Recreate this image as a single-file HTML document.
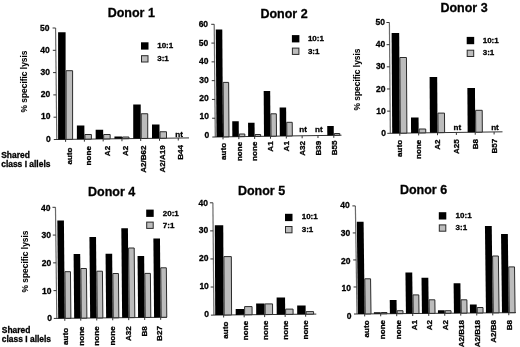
<!DOCTYPE html>
<html><head><meta charset="utf-8"><style>
html,body{margin:0;padding:0;background:#fff;width:520px;height:347px;overflow:hidden}
svg{display:block;filter:blur(0.4px)}
text{stroke:#000;stroke-width:0.3px}
</style></head><body>
<svg width="520" height="347" viewBox="0 0 520 347" font-family="Liberation Sans, sans-serif" font-weight="bold" fill="#000">
<line x1="55.57" y1="28" x2="56.8" y2="139.5" stroke="#6a6a6a" stroke-width="1.2"/>
<line x1="53.8" y1="139.54" x2="189" y2="137.91" stroke="#333" stroke-width="1"/>
<text x="50.7" y="141.5" font-size="8.5" text-anchor="end">0</text>
<line x1="53.55" y1="117.2" x2="56.55" y2="117.2" stroke="#333" stroke-width="1"/>
<text x="50.45" y="119.34" font-size="8.5" text-anchor="end">10</text>
<line x1="53.31" y1="94.9" x2="56.31" y2="94.9" stroke="#333" stroke-width="1"/>
<text x="50.21" y="97.18" font-size="8.5" text-anchor="end">20</text>
<line x1="53.06" y1="72.6" x2="56.06" y2="72.6" stroke="#333" stroke-width="1"/>
<text x="49.96" y="75.02" font-size="8.5" text-anchor="end">30</text>
<line x1="52.82" y1="50.3" x2="55.82" y2="50.3" stroke="#333" stroke-width="1"/>
<text x="49.72" y="52.86" font-size="8.5" text-anchor="end">40</text>
<line x1="52.57" y1="28" x2="55.57" y2="28" stroke="#333" stroke-width="1"/>
<text x="49.47" y="30.7" font-size="8.5" text-anchor="end">50</text>
<line x1="65.6" y1="139.39" x2="65.6" y2="141.89" stroke="#333" stroke-width="1"/>
<polygon points="58.1,139.48 58.1,32.2 65.6,32.2 65.6,139.39" fill="#000"/>
<polygon points="66.1,139.39 66.1,70.7 72.6,70.7 72.6,139.31" fill="#bcbcbc" stroke="#2a2a2a" stroke-width="1"/>
<text transform="translate(72.32,147.49) rotate(-90)" font-size="8.1" text-anchor="end">auto</text>
<line x1="84.38" y1="139.17" x2="84.38" y2="141.67" stroke="#333" stroke-width="1"/>
<polygon points="76.88,139.26 76.88,125.5 84.38,125.5 84.38,139.17" fill="#000"/>
<polygon points="84.88,139.16 84.88,134.5 91.38,134.5 91.38,139.09" fill="#bcbcbc" stroke="#2a2a2a" stroke-width="1"/>
<text transform="translate(90.79,146.07) rotate(-90)" font-size="8.1" text-anchor="end">none</text>
<line x1="103.16" y1="138.94" x2="103.16" y2="141.44" stroke="#333" stroke-width="1"/>
<polygon points="95.66,139.03 95.66,129.75 103.16,129.75 103.16,138.94" fill="#000"/>
<polygon points="103.66,138.94 103.66,134.5 110.16,134.5 110.16,138.86" fill="#bcbcbc" stroke="#2a2a2a" stroke-width="1"/>
<text transform="translate(109.5,145.84) rotate(-90)" font-size="8.1" text-anchor="end">A2</text>
<line x1="121.94" y1="138.72" x2="121.94" y2="141.22" stroke="#333" stroke-width="1"/>
<polygon points="114.44,138.81 114.44,136.5 121.94,136.5 121.94,138.72" fill="#000"/>
<polygon points="122.44,138.71 122.44,137 128.94,137 128.94,138.63" fill="#bcbcbc" stroke="#2a2a2a" stroke-width="1"/>
<text transform="translate(127.95,145.62) rotate(-90)" font-size="8.1" text-anchor="end">A2</text>
<line x1="140.72" y1="138.49" x2="140.72" y2="140.99" stroke="#333" stroke-width="1"/>
<polygon points="133.22,138.58 133.22,104.5 140.72,104.5 140.72,138.49" fill="#000"/>
<polygon points="141.22,138.49 141.22,113.75 147.72,113.75 147.72,138.41" fill="#bcbcbc" stroke="#2a2a2a" stroke-width="1"/>
<text transform="translate(146.48,145.39) rotate(-90)" font-size="8.1" text-anchor="end">A2/B62</text>
<line x1="159.5" y1="138.27" x2="159.5" y2="140.77" stroke="#333" stroke-width="1"/>
<polygon points="152,138.36 152,124.5 159.5,124.5 159.5,138.27" fill="#000"/>
<polygon points="160,138.26 160,131.75 166.5,131.75 166.5,138.18" fill="#bcbcbc" stroke="#2a2a2a" stroke-width="1"/>
<text transform="translate(164.91,145.17) rotate(-90)" font-size="8.1" text-anchor="end">A2/A19</text>
<line x1="178.28" y1="138.04" x2="178.28" y2="140.54" stroke="#333" stroke-width="1"/>
<text x="179.18" y="137.24" font-size="8.1" text-anchor="middle">nt</text>
<text transform="translate(183.45,144.94) rotate(-90)" font-size="8.1" text-anchor="end">B44</text>
<text x="107.7" y="17.3" font-size="12.5">Donor 1</text>
<rect x="141" y="42.3" width="7.5" height="7.3" fill="#000"/>
<rect x="141.5" y="55.7" width="6.5" height="6.3" fill="#bcbcbc" stroke="#2a2a2a" stroke-width="1"/>
<text x="157.2" y="48.4" font-size="8.0">10:1</text>
<text x="157.2" y="60.9" font-size="8.0">3:1</text>
<text transform="translate(27,81.5) rotate(-90)" font-size="8.4" text-anchor="middle" style="stroke-width:0.1px">% specific lysis</text>
<text x="1.2" y="158" font-size="8.45">Shared</text>
<text x="1.2" y="166.7" font-size="8.45">class I allels</text>
<line x1="214.21" y1="24.3" x2="215.3" y2="137" stroke="#6a6a6a" stroke-width="1.2"/>
<line x1="212.3" y1="137.04" x2="341.5" y2="135.23" stroke="#333" stroke-width="1"/>
<text x="209.2" y="137.9" font-size="8.5" text-anchor="end">0</text>
<line x1="212.12" y1="118.22" x2="215.12" y2="118.22" stroke="#333" stroke-width="1"/>
<text x="209.02" y="119.43" font-size="8.5" text-anchor="end">10</text>
<line x1="211.94" y1="99.43" x2="214.94" y2="99.43" stroke="#333" stroke-width="1"/>
<text x="208.84" y="100.97" font-size="8.5" text-anchor="end">20</text>
<line x1="211.75" y1="80.65" x2="214.75" y2="80.65" stroke="#333" stroke-width="1"/>
<text x="208.65" y="82.5" font-size="8.5" text-anchor="end">30</text>
<line x1="211.57" y1="61.87" x2="214.57" y2="61.87" stroke="#333" stroke-width="1"/>
<text x="208.47" y="64.03" font-size="8.5" text-anchor="end">40</text>
<line x1="211.39" y1="43.08" x2="214.39" y2="43.08" stroke="#333" stroke-width="1"/>
<text x="208.29" y="45.57" font-size="8.5" text-anchor="end">50</text>
<line x1="211.21" y1="24.3" x2="214.21" y2="24.3" stroke="#333" stroke-width="1"/>
<text x="208.11" y="27.1" font-size="8.5" text-anchor="end">60</text>
<line x1="223" y1="136.89" x2="223" y2="139.39" stroke="#333" stroke-width="1"/>
<polygon points="216.5,136.98 215.78,29.5 222.28,29.5 223,136.89" fill="#000"/>
<polygon points="223.5,136.89 223.13,82.4 228.63,82.4 229,136.81" fill="#bcbcbc" stroke="#2a2a2a" stroke-width="1"/>
<text transform="translate(226.02,142.79) rotate(-90)" font-size="8.1" text-anchor="end">auto</text>
<line x1="238.83" y1="136.67" x2="238.83" y2="139.17" stroke="#333" stroke-width="1"/>
<polygon points="232.33,136.76 232.23,121.2 238.73,121.2 238.83,136.67" fill="#000"/>
<polygon points="239.33,136.66 239.31,134 244.81,134 244.83,136.59" fill="#bcbcbc" stroke="#2a2a2a" stroke-width="1"/>
<text transform="translate(241.76,141.77) rotate(-90)" font-size="8.1" text-anchor="end">none</text>
<line x1="254.66" y1="136.45" x2="254.66" y2="138.95" stroke="#333" stroke-width="1"/>
<polygon points="248.16,136.54 248.07,122.7 254.57,122.7 254.66,136.45" fill="#000"/>
<polygon points="255.16,136.44 255.14,134.5 260.64,134.5 260.66,136.36" fill="#bcbcbc" stroke="#2a2a2a" stroke-width="1"/>
<text transform="translate(257.48,141.55) rotate(-90)" font-size="8.1" text-anchor="end">none</text>
<line x1="270.49" y1="136.23" x2="270.49" y2="138.73" stroke="#333" stroke-width="1"/>
<polygon points="263.99,136.32 263.69,91 270.19,91 270.49,136.23" fill="#000"/>
<polygon points="270.99,136.22 270.84,113.8 276.34,113.8 276.49,136.14" fill="#bcbcbc" stroke="#2a2a2a" stroke-width="1"/>
<text transform="translate(273.43,141.33) rotate(-90)" font-size="8.1" text-anchor="end">A1</text>
<line x1="286.32" y1="136.01" x2="286.32" y2="138.51" stroke="#333" stroke-width="1"/>
<polygon points="279.82,136.1 279.63,107.4 286.13,107.4 286.32,136.01" fill="#000"/>
<polygon points="286.82,136 286.72,122.3 292.22,122.3 292.32,135.92" fill="#bcbcbc" stroke="#2a2a2a" stroke-width="1"/>
<text transform="translate(289.15,141.11) rotate(-90)" font-size="8.1" text-anchor="end">A1</text>
<line x1="302.15" y1="135.78" x2="302.15" y2="138.28" stroke="#333" stroke-width="1"/>
<text x="303.05" y="131.78" font-size="8.1" text-anchor="middle">nt</text>
<text transform="translate(304.94,140.88) rotate(-90)" font-size="8.1" text-anchor="end">A32</text>
<line x1="317.98" y1="135.56" x2="317.98" y2="138.06" stroke="#333" stroke-width="1"/>
<text x="318.88" y="131.56" font-size="8.1" text-anchor="middle">nt</text>
<text transform="translate(320.82,140.66) rotate(-90)" font-size="8.1" text-anchor="end">B39</text>
<line x1="333.81" y1="135.34" x2="333.81" y2="137.84" stroke="#333" stroke-width="1"/>
<polygon points="327.31,135.43 327.25,126 333.75,126 333.81,135.34" fill="#000"/>
<polygon points="334.31,135.33 334.29,133.5 339.79,133.5 339.81,135.26" fill="#bcbcbc" stroke="#2a2a2a" stroke-width="1"/>
<text transform="translate(336.61,140.44) rotate(-90)" font-size="8.1" text-anchor="end">B55</text>
<text x="260.4" y="17.6" font-size="12.5">Donor 2</text>
<rect x="291.9" y="35.1" width="7.5" height="7.3" fill="#000"/>
<rect x="292.4" y="48.1" width="6.5" height="6.3" fill="#bcbcbc" stroke="#2a2a2a" stroke-width="1"/>
<text x="307.9" y="41.2" font-size="8.0">10:1</text>
<text x="307.9" y="53.7" font-size="8.0">3:1</text>
<line x1="389.41" y1="22.5" x2="390.3" y2="133.3" stroke="#6a6a6a" stroke-width="1.2"/>
<line x1="387.3" y1="133.34" x2="502.5" y2="131.84" stroke="#333" stroke-width="1"/>
<text x="385.9" y="135.8" font-size="8.5" text-anchor="end">0</text>
<line x1="387.12" y1="111.14" x2="390.12" y2="111.14" stroke="#333" stroke-width="1"/>
<text x="385.72" y="113.67" font-size="8.5" text-anchor="end">10</text>
<line x1="386.95" y1="88.98" x2="389.95" y2="88.98" stroke="#333" stroke-width="1"/>
<text x="385.55" y="91.54" font-size="8.5" text-anchor="end">20</text>
<line x1="386.77" y1="66.82" x2="389.77" y2="66.82" stroke="#333" stroke-width="1"/>
<text x="385.37" y="69.41" font-size="8.5" text-anchor="end">30</text>
<line x1="386.59" y1="44.66" x2="389.59" y2="44.66" stroke="#333" stroke-width="1"/>
<text x="385.19" y="47.28" font-size="8.5" text-anchor="end">40</text>
<line x1="386.41" y1="22.5" x2="389.41" y2="22.5" stroke="#333" stroke-width="1"/>
<text x="385.01" y="25.15" font-size="8.5" text-anchor="end">50</text>
<line x1="399.8" y1="133.18" x2="399.8" y2="135.68" stroke="#333" stroke-width="1"/>
<polygon points="392.2,133.28 391.6,33 399.2,33 399.8,133.18" fill="#000"/>
<polygon points="400.3,133.17 399.84,57.5 406.44,57.5 406.9,133.08" fill="#bcbcbc" stroke="#2a2a2a" stroke-width="1"/>
<text transform="translate(402.42,139.88) rotate(-90)" font-size="8.1" text-anchor="end">auto</text>
<line x1="418.66" y1="132.93" x2="418.66" y2="135.43" stroke="#333" stroke-width="1"/>
<polygon points="411.06,133.03 410.97,117.6 418.57,117.6 418.66,132.93" fill="#000"/>
<polygon points="419.16,132.92 419.13,129 425.73,129 425.76,132.84" fill="#bcbcbc" stroke="#2a2a2a" stroke-width="1"/>
<text transform="translate(421.19,139.63) rotate(-90)" font-size="8.1" text-anchor="end">none</text>
<line x1="437.52" y1="132.69" x2="437.52" y2="135.19" stroke="#333" stroke-width="1"/>
<polygon points="429.92,132.78 429.59,77.1 437.19,77.1 437.52,132.69" fill="#000"/>
<polygon points="438.02,132.68 437.9,113.1 444.5,113.1 444.62,132.59" fill="#bcbcbc" stroke="#2a2a2a" stroke-width="1"/>
<text transform="translate(440.2,139.39) rotate(-90)" font-size="8.1" text-anchor="end">A2</text>
<line x1="456.38" y1="132.44" x2="456.38" y2="134.94" stroke="#333" stroke-width="1"/>
<text x="457.28" y="130.34" font-size="8.1" text-anchor="middle">nt</text>
<text transform="translate(459.07,139.14) rotate(-90)" font-size="8.1" text-anchor="end">A25</text>
<line x1="475.24" y1="132.2" x2="475.24" y2="134.7" stroke="#333" stroke-width="1"/>
<polygon points="467.64,132.29 467.37,88 474.97,88 475.24,132.2" fill="#000"/>
<polygon points="475.74,132.19 475.61,110.3 482.21,110.3 482.34,132.1" fill="#bcbcbc" stroke="#2a2a2a" stroke-width="1"/>
<text transform="translate(477.86,138.9) rotate(-90)" font-size="8.1" text-anchor="end">B8</text>
<line x1="494.1" y1="131.95" x2="494.1" y2="134.45" stroke="#333" stroke-width="1"/>
<text x="495" y="129.85" font-size="8.1" text-anchor="middle">nt</text>
<text transform="translate(496.82,138.65) rotate(-90)" font-size="8.1" text-anchor="end">B57</text>
<text x="440.4" y="12.1" font-size="12.5">Donor 3</text>
<rect x="466.7" y="36.9" width="7.5" height="7.3" fill="#000"/>
<rect x="467.2" y="50.2" width="6.5" height="6.3" fill="#bcbcbc" stroke="#2a2a2a" stroke-width="1"/>
<text x="482.7" y="43" font-size="8.0">10:1</text>
<text x="482.7" y="55.4" font-size="8.0">3:1</text>
<text transform="translate(359.9,79.5) rotate(-90)" font-size="8.4" text-anchor="middle" style="stroke-width:0.1px">% specific lysis</text>
<line x1="55.47" y1="207.3" x2="56.8" y2="318.4" stroke="#6a6a6a" stroke-width="1.2"/>
<line x1="53.8" y1="318.43" x2="167" y2="317.24" stroke="#333" stroke-width="1"/>
<text x="51.9" y="321.4" font-size="8.5" text-anchor="end">0</text>
<line x1="53.47" y1="290.62" x2="56.47" y2="290.62" stroke="#333" stroke-width="1"/>
<text x="51.57" y="293.72" font-size="8.5" text-anchor="end">10</text>
<line x1="53.13" y1="262.85" x2="56.13" y2="262.85" stroke="#333" stroke-width="1"/>
<text x="51.23" y="266.05" font-size="8.5" text-anchor="end">20</text>
<line x1="52.8" y1="235.07" x2="55.8" y2="235.07" stroke="#333" stroke-width="1"/>
<text x="50.9" y="238.38" font-size="8.5" text-anchor="end">30</text>
<line x1="52.47" y1="207.3" x2="55.47" y2="207.3" stroke="#333" stroke-width="1"/>
<text x="50.57" y="210.7" font-size="8.5" text-anchor="end">40</text>
<line x1="64.8" y1="318.32" x2="64.8" y2="320.82" stroke="#333" stroke-width="1"/>
<polygon points="58.2,318.39 57.32,220.6 63.92,220.6 64.8,318.32" fill="#000"/>
<polygon points="65.3,318.31 64.88,271.7 70.48,271.7 70.9,318.25" fill="#bcbcbc" stroke="#2a2a2a" stroke-width="1"/>
<text transform="translate(68.12,327.87) rotate(-90)" font-size="8.1" text-anchor="end">auto</text>
<line x1="80.78" y1="318.15" x2="80.78" y2="320.65" stroke="#333" stroke-width="1"/>
<polygon points="74.18,318.22 73.6,254.1 80.2,254.1 80.78,318.15" fill="#000"/>
<polygon points="81.28,318.14 80.83,268.5 86.43,268.5 86.88,318.08" fill="#bcbcbc" stroke="#2a2a2a" stroke-width="1"/>
<text transform="translate(83.76,326.4) rotate(-90)" font-size="8.1" text-anchor="end">none</text>
<line x1="96.76" y1="317.98" x2="96.76" y2="320.48" stroke="#333" stroke-width="1"/>
<polygon points="90.16,318.05 89.43,237.1 96.03,237.1 96.76,317.98" fill="#000"/>
<polygon points="97.26,317.98 96.83,271.2 102.43,271.2 102.86,317.92" fill="#bcbcbc" stroke="#2a2a2a" stroke-width="1"/>
<text transform="translate(99.38,326.34) rotate(-90)" font-size="8.1" text-anchor="end">none</text>
<line x1="112.74" y1="317.81" x2="112.74" y2="320.31" stroke="#333" stroke-width="1"/>
<polygon points="106.14,317.88 105.56,253.8 112.16,253.8 112.74,317.81" fill="#000"/>
<polygon points="113.24,317.81 112.84,273.5 118.44,273.5 118.84,317.75" fill="#bcbcbc" stroke="#2a2a2a" stroke-width="1"/>
<text transform="translate(115,326.28) rotate(-90)" font-size="8.1" text-anchor="end">none</text>
<line x1="128.72" y1="317.64" x2="128.72" y2="320.14" stroke="#333" stroke-width="1"/>
<polygon points="122.12,317.71 121.32,228.3 127.92,228.3 128.72,317.64" fill="#000"/>
<polygon points="129.22,317.64 128.59,248 134.19,248 134.82,317.58" fill="#bcbcbc" stroke="#2a2a2a" stroke-width="1"/>
<text transform="translate(130.92,326.21) rotate(-90)" font-size="8.1" text-anchor="end">A32</text>
<line x1="144.7" y1="317.48" x2="144.7" y2="319.98" stroke="#333" stroke-width="1"/>
<polygon points="138.1,317.55 137.55,256 144.15,256 144.7,317.48" fill="#000"/>
<polygon points="145.2,317.47 144.8,273.4 150.4,273.4 150.8,317.41" fill="#bcbcbc" stroke="#2a2a2a" stroke-width="1"/>
<text transform="translate(146.66,326.15) rotate(-90)" font-size="8.1" text-anchor="end">B8</text>
<line x1="160.68" y1="317.31" x2="160.68" y2="319.81" stroke="#333" stroke-width="1"/>
<polygon points="154.08,317.38 153.37,238.5 159.97,238.5 160.68,317.31" fill="#000"/>
<polygon points="161.18,317.3 160.73,267.8 166.33,267.8 166.78,317.25" fill="#bcbcbc" stroke="#2a2a2a" stroke-width="1"/>
<text transform="translate(162.39,326.08) rotate(-90)" font-size="8.1" text-anchor="end">B27</text>
<text x="88" y="195.9" font-size="12.5">Donor 4</text>
<rect x="146.2" y="209.6" width="7.5" height="7.3" fill="#000"/>
<rect x="146.7" y="222.1" width="6.5" height="6.3" fill="#bcbcbc" stroke="#2a2a2a" stroke-width="1"/>
<text x="162.8" y="215.7" font-size="8.0">20:1</text>
<text x="162.8" y="227.5" font-size="8.0">7:1</text>
<text transform="translate(28,261.5) rotate(-90)" font-size="8.4" text-anchor="middle" style="stroke-width:0.1px">% specific lysis</text>
<text x="1.8" y="332.7" font-size="8.45">Shared</text>
<text x="1.8" y="341.7" font-size="8.45">class I allels</text>
<line x1="212.89" y1="202.8" x2="213.9" y2="315.1" stroke="#6a6a6a" stroke-width="1.2"/>
<line x1="210.9" y1="315.13" x2="316.3" y2="314.08" stroke="#333" stroke-width="1"/>
<text x="209.1" y="316.7" font-size="8.5" text-anchor="end">0</text>
<line x1="210.65" y1="287.03" x2="213.65" y2="287.03" stroke="#333" stroke-width="1"/>
<text x="208.85" y="288.95" font-size="8.5" text-anchor="end">10</text>
<line x1="210.39" y1="258.95" x2="213.39" y2="258.95" stroke="#333" stroke-width="1"/>
<text x="208.59" y="261.2" font-size="8.5" text-anchor="end">20</text>
<line x1="210.14" y1="230.88" x2="213.14" y2="230.88" stroke="#333" stroke-width="1"/>
<text x="208.34" y="233.45" font-size="8.5" text-anchor="end">30</text>
<line x1="209.89" y1="202.8" x2="212.89" y2="202.8" stroke="#333" stroke-width="1"/>
<text x="208.09" y="205.7" font-size="8.5" text-anchor="end">40</text>
<line x1="223.65" y1="315" x2="223.65" y2="317.5" stroke="#333" stroke-width="1"/>
<polygon points="215.2,315.09 214.8,225.3 223.25,225.3 223.65,315" fill="#000"/>
<polygon points="224.15,315 223.88,256.6 231.33,256.6 231.6,314.92" fill="#bcbcbc" stroke="#2a2a2a" stroke-width="1"/>
<text transform="translate(228.02,321.6) rotate(-90)" font-size="8.1" text-anchor="end">auto</text>
<line x1="244.15" y1="314.8" x2="244.15" y2="317.3" stroke="#333" stroke-width="1"/>
<polygon points="235.7,314.88 235.67,309.1 244.12,309.1 244.15,314.8" fill="#000"/>
<polygon points="244.65,314.79 244.61,306.6 252.06,306.6 252.1,314.72" fill="#bcbcbc" stroke="#2a2a2a" stroke-width="1"/>
<text transform="translate(248.09,320.8) rotate(-90)" font-size="8.1" text-anchor="end">none</text>
<line x1="264.65" y1="314.59" x2="264.65" y2="317.09" stroke="#333" stroke-width="1"/>
<polygon points="256.2,314.68 256.15,303.4 264.6,303.4 264.65,314.59" fill="#000"/>
<polygon points="265.15,314.59 265.1,303.9 272.55,303.9 272.6,314.51" fill="#bcbcbc" stroke="#2a2a2a" stroke-width="1"/>
<text transform="translate(268.14,320.59) rotate(-90)" font-size="8.1" text-anchor="end">none</text>
<line x1="285.15" y1="314.39" x2="285.15" y2="316.89" stroke="#333" stroke-width="1"/>
<polygon points="276.7,314.47 276.62,297.6 285.07,297.6 285.15,314.39" fill="#000"/>
<polygon points="285.65,314.38 285.62,309.1 293.07,309.1 293.1,314.31" fill="#bcbcbc" stroke="#2a2a2a" stroke-width="1"/>
<text transform="translate(288.19,320.39) rotate(-90)" font-size="8.1" text-anchor="end">none</text>
<line x1="305.65" y1="314.18" x2="305.65" y2="316.68" stroke="#333" stroke-width="1"/>
<polygon points="297.2,314.27 297.16,305.6 305.61,305.6 305.65,314.18" fill="#000"/>
<polygon points="306.15,314.18 306.14,311.6 313.59,311.6 313.6,314.1" fill="#bcbcbc" stroke="#2a2a2a" stroke-width="1"/>
<text transform="translate(308.24,320.18) rotate(-90)" font-size="8.1" text-anchor="end">none</text>
<text x="237.9" y="195.2" font-size="12.5">Donor 5</text>
<rect x="285" y="213.8" width="7.5" height="7.3" fill="#000"/>
<rect x="285.5" y="226.5" width="6.5" height="6.3" fill="#bcbcbc" stroke="#2a2a2a" stroke-width="1"/>
<text x="301.7" y="219.4" font-size="8.0">10:1</text>
<text x="301.7" y="231.6" font-size="8.0">3:1</text>
<line x1="355.38" y1="205.9" x2="357" y2="314" stroke="#6a6a6a" stroke-width="1.2"/>
<line x1="354" y1="314.03" x2="516" y2="312.65" stroke="#333" stroke-width="1"/>
<text x="351.4" y="318.9" font-size="8.5" text-anchor="end">0</text>
<line x1="353.59" y1="286.98" x2="356.59" y2="286.98" stroke="#333" stroke-width="1"/>
<text x="350.99" y="291.27" font-size="8.5" text-anchor="end">10</text>
<line x1="353.19" y1="259.95" x2="356.19" y2="259.95" stroke="#333" stroke-width="1"/>
<text x="350.59" y="263.65" font-size="8.5" text-anchor="end">20</text>
<line x1="352.78" y1="232.93" x2="355.78" y2="232.93" stroke="#333" stroke-width="1"/>
<text x="350.18" y="236.03" font-size="8.5" text-anchor="end">30</text>
<line x1="352.38" y1="205.9" x2="355.38" y2="205.9" stroke="#333" stroke-width="1"/>
<text x="349.78" y="208.4" font-size="8.5" text-anchor="end">40</text>
<line x1="364.7" y1="313.93" x2="364.7" y2="316.43" stroke="#333" stroke-width="1"/>
<polygon points="357.9,313.99 356.79,221.8 363.59,221.8 364.7,313.93" fill="#000"/>
<polygon points="365.2,313.93 364.77,278.8 370.57,278.8 371,313.88" fill="#bcbcbc" stroke="#2a2a2a" stroke-width="1"/>
<text transform="translate(369.02,320.3) rotate(-90)" font-size="8.1" text-anchor="end">auto</text>
<line x1="380.71" y1="313.8" x2="380.71" y2="316.3" stroke="#333" stroke-width="1"/>
<polygon points="373.91,313.86 373.89,312.3 380.69,312.3 380.71,313.8" fill="#000"/>
<polygon points="381.21,313.79 381.19,312.5 386.99,312.5 387.01,313.74" fill="#bcbcbc" stroke="#2a2a2a" stroke-width="1"/>
<text transform="translate(384.83,319.9) rotate(-90)" font-size="8.1" text-anchor="end">none</text>
<line x1="396.72" y1="313.66" x2="396.72" y2="316.16" stroke="#333" stroke-width="1"/>
<polygon points="389.92,313.72 389.75,299.9 396.55,299.9 396.72,313.66" fill="#000"/>
<polygon points="397.22,313.66 397.18,310.7 402.98,310.7 403.02,313.61" fill="#bcbcbc" stroke="#2a2a2a" stroke-width="1"/>
<text transform="translate(400.62,319.9) rotate(-90)" font-size="8.1" text-anchor="end">none</text>
<line x1="412.73" y1="313.53" x2="412.73" y2="316.03" stroke="#333" stroke-width="1"/>
<polygon points="405.93,313.58 405.44,272.6 412.24,272.6 412.73,313.53" fill="#000"/>
<polygon points="413.23,313.52 413,294.9 418.8,294.9 419.03,313.47" fill="#bcbcbc" stroke="#2a2a2a" stroke-width="1"/>
<text transform="translate(416.64,319.9) rotate(-90)" font-size="8.1" text-anchor="end">A1</text>
<line x1="428.74" y1="313.39" x2="428.74" y2="315.89" stroke="#333" stroke-width="1"/>
<polygon points="421.94,313.45 421.51,277.7 428.31,277.7 428.74,313.39" fill="#000"/>
<polygon points="429.24,313.39 429.07,299.8 434.87,299.8 435.04,313.34" fill="#bcbcbc" stroke="#2a2a2a" stroke-width="1"/>
<text transform="translate(432.46,319.9) rotate(-90)" font-size="8.1" text-anchor="end">A2</text>
<line x1="444.75" y1="313.25" x2="444.75" y2="315.75" stroke="#333" stroke-width="1"/>
<polygon points="437.95,313.31 437.91,310.2 444.71,310.2 444.75,313.25" fill="#000"/>
<polygon points="445.25,313.25 445.21,310.7 451.01,310.7 451.05,313.2" fill="#bcbcbc" stroke="#2a2a2a" stroke-width="1"/>
<text transform="translate(448.25,319.9) rotate(-90)" font-size="8.1" text-anchor="end">A2</text>
<line x1="460.76" y1="313.12" x2="460.76" y2="315.62" stroke="#333" stroke-width="1"/>
<polygon points="453.96,313.18 453.6,283.2 460.4,283.2 460.76,313.12" fill="#000"/>
<polygon points="461.26,313.11 461.09,299.8 466.89,299.8 467.06,313.06" fill="#bcbcbc" stroke="#2a2a2a" stroke-width="1"/>
<text transform="translate(464.12,319.9) rotate(-90)" font-size="8.1" text-anchor="end">A2/B18</text>
<line x1="476.77" y1="312.98" x2="476.77" y2="315.48" stroke="#333" stroke-width="1"/>
<polygon points="469.97,313.04 469.87,304.5 476.67,304.5 476.77,312.98" fill="#000"/>
<polygon points="477.27,312.98 477.2,307.5 483,307.5 483.07,312.93" fill="#bcbcbc" stroke="#2a2a2a" stroke-width="1"/>
<text transform="translate(479.91,319.9) rotate(-90)" font-size="8.1" text-anchor="end">A2/B18</text>
<line x1="492.78" y1="312.85" x2="492.78" y2="315.35" stroke="#333" stroke-width="1"/>
<polygon points="485.98,312.9 484.94,226 491.74,226 492.78,312.85" fill="#000"/>
<polygon points="493.28,312.84 492.59,256 498.39,256 499.08,312.79" fill="#bcbcbc" stroke="#2a2a2a" stroke-width="1"/>
<text transform="translate(495.72,319.9) rotate(-90)" font-size="8.1" text-anchor="end">A2/B8</text>
<line x1="508.79" y1="312.71" x2="508.79" y2="315.21" stroke="#333" stroke-width="1"/>
<polygon points="501.99,312.77 501.04,233.9 507.84,233.9 508.79,312.71" fill="#000"/>
<polygon points="509.29,312.71 508.73,266.9 514.53,266.9 515.09,312.66" fill="#bcbcbc" stroke="#2a2a2a" stroke-width="1"/>
<text transform="translate(511.57,319.9) rotate(-90)" font-size="8.1" text-anchor="end">B8</text>
<text x="399.9" y="193.7" font-size="12.5">Donor 6</text>
<rect x="438.8" y="212.2" width="7.5" height="7.3" fill="#000"/>
<rect x="439.3" y="224.9" width="6.5" height="6.3" fill="#bcbcbc" stroke="#2a2a2a" stroke-width="1"/>
<text x="455.6" y="217.8" font-size="8.0">10:1</text>
<text x="455.6" y="230.2" font-size="8.0">3:1</text>
</svg>
</body></html>
